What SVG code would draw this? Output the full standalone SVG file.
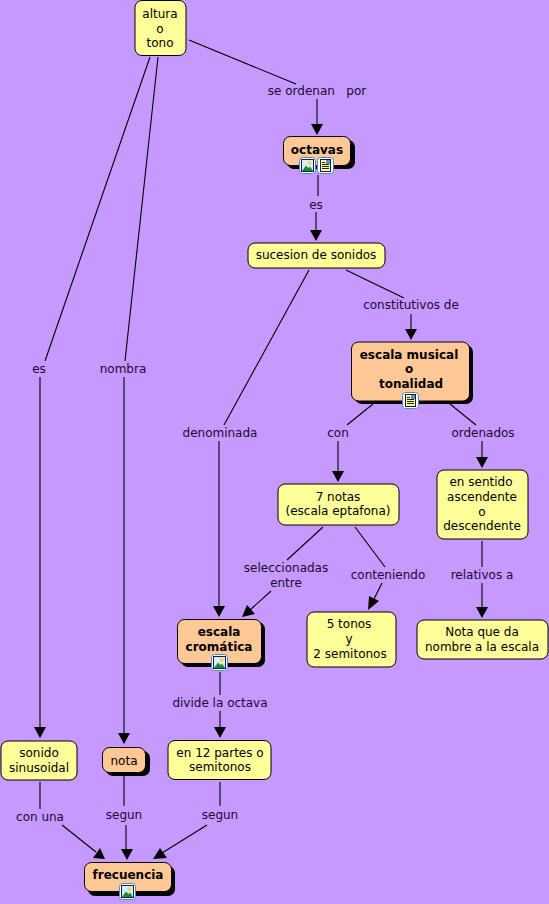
<svg xmlns="http://www.w3.org/2000/svg" width="549" height="904" viewBox="0 0 549 904">
<style>
text{font-family:"DejaVu Sans",Verdana,sans-serif;font-size:12px;text-anchor:middle;fill:#000}
.l{fill:#1a0a33}
.b{font-weight:bold}
.y{fill:#ffff99;stroke:#000;stroke-width:1}
.o{fill:#ffc896;stroke:#000;stroke-width:1}
.s{fill:#000}
.c{fill:none;stroke:#000;stroke-width:1.1}
.h{fill:#000}
.if{fill:#ffffff;stroke:#4f86d8;stroke-width:1}
</style>
<defs>
<g id="pic"><rect x="0.5" y="0.5" width="16" height="16" rx="3" class="if"/><rect x="2.500" y="2.500" width="12" height="12" fill="#d8ecff" stroke="#10243c" stroke-width="1"/><path d="M3 14L7 8.500L9.500 11L11 9.500L14 14Z" fill="#1f8a3a"/><circle cx="10.500" cy="6" r="2" fill="#f5d742"/></g>
<g id="doc"><rect x="0.5" y="0.5" width="16" height="16" rx="3" class="if"/><rect x="3.500" y="2.500" width="10" height="12" fill="#ffff99" stroke="#10243c" stroke-width="1"/><rect x="9" y="3" width="4" height="4" fill="#5f8fb8"/><path d="M5 5.500H8M5 7.500H12M5 9.500H12M5 11.500H12" stroke="#222" stroke-width="1" fill="none"/></g>
</defs>
<rect width="549" height="904" fill="#c599ff"/>
<g id="connectors">
<path class="c" d="M189 40L296 84"/><path class="c" d="M317 99V126"/><path class="h" d="M311 124H323L317 135Z"/>
<path class="c" d="M318 175V196"/><path class="c" d="M316 212V232"/><path class="h" d="M310 230H322L316 241Z"/>
<path class="c" d="M346 270L404 298"/><path class="c" d="M411 314V331"/><path class="h" d="M405 329H417L411 340Z"/>
<path class="c" d="M309 270L224 425"/><path class="c" d="M219 441V608"/><path class="h" d="M213 606H225L219 617Z"/>
<path class="c" d="M373 404L347 425"/><path class="c" d="M338 441V473"/><path class="h" d="M332 471H344L338 482Z"/>
<path class="c" d="M450 404L476 425"/><path class="c" d="M482 441V458"/><path class="h" d="M476 457H488L482 468Z"/>
<path class="c" d="M482 541V567"/><path class="c" d="M482 583V609"/><path class="h" d="M476 607H488L482 618Z"/>
<path class="c" d="M323 527L287 560"/><path class="c" d="M271 591L250 610"/><path class="h" d="M242 617L247 605L255 614Z"/>
<path class="c" d="M355 527L385 567"/><path class="c" d="M382 583L374 599"/><path class="h" d="M368 610L369 596L379 601Z"/>
<path class="c" d="M220 672V695"/><path class="c" d="M220 711V729"/><path class="h" d="M214 727H226L220 738Z"/>
<path class="c" d="M150 57L45 361"/><path class="c" d="M40 377V727"/><path class="h" d="M34 727H46L40 738Z"/>
<path class="c" d="M158 57L125 361"/><path class="c" d="M124 377V733"/><path class="h" d="M118 733H130L124 744Z"/>
<path class="c" d="M40 782V809"/><path class="c" d="M62 825L96 852"/><path class="h" d="M105 859L93 858L100 848Z"/>
<path class="c" d="M124 776V806"/><path class="c" d="M126 825V851"/><path class="h" d="M121 849H133L127 860Z"/>
<path class="c" d="M220 782V806"/><path class="c" d="M207 825L162 853"/><path class="h" d="M153 859L160 848L167 858Z"/>
</g>
<g id="n-altura"><rect class="y" x="135" y="0.500" width="51" height="55" rx="7"/><text x="160" y="18">altura</text><text x="160" y="33">o</text><text x="160" y="47">tono</text></g>
<g id="n-octavas"><rect class="s" x="287" y="140" width="68" height="29" rx="7"/><rect class="o" x="283.500" y="136.500" width="67" height="29" rx="7"/><text class="b" x="317" y="154">octavas</text><use href="#pic" x="299" y="157"/><use href="#doc" x="317" y="157"/></g>
<g id="n-sucesion"><rect class="y" x="248" y="243" width="137" height="25" rx="7"/><text x="316" y="259">sucesion de sonidos</text></g>
<g id="n-escala-musical"><rect class="s" x="355" y="345" width="118" height="59" rx="7"/><rect class="o" x="351.500" y="342" width="118" height="59" rx="7"/><text class="b" x="409" y="359">escala musical</text><text class="b" x="409" y="373">o</text><text class="b" x="411" y="388">tonalidad</text><use href="#doc" x="402" y="392"/></g>
<g id="n-7notas"><rect class="y" x="278" y="484" width="121" height="41" rx="7"/><text x="338" y="501">7 notas</text><text x="338" y="515">(escala eptafona)</text></g>
<g id="n-sentido"><rect class="y" x="437" y="470" width="91" height="69" rx="7"/><text x="481" y="486">en sentido</text><text x="482" y="501">ascendente</text><text x="482" y="516">o</text><text x="482" y="530">descendente</text></g>
<g id="n-5tonos"><rect class="y" x="307" y="612" width="89" height="55" rx="7"/><text x="349" y="628">5 tonos</text><text x="349" y="643">y</text><text x="350" y="658">2 semitonos</text></g>
<g id="n-nota-escala"><rect class="y" x="417" y="620" width="131" height="39" rx="7"/><text x="482" y="636">Nota que da</text><text x="482" y="651">nombre a la escala</text></g>
<g id="n-cromatica"><rect class="s" x="181" y="622" width="84" height="45" rx="7"/><rect class="o" x="177.500" y="619.500" width="84" height="44" rx="7"/><text class="b" x="219" y="636">escala</text><text class="b" x="219" y="651">cromática</text><use href="#pic" x="211" y="654"/></g>
<g id="n-sonido"><rect class="y" x="1" y="741" width="76" height="39" rx="7"/><text x="39" y="757">sonido</text><text x="39" y="772">sinusoidal</text></g>
<g id="n-nota"><rect class="s" x="106" y="751" width="44" height="25" rx="7"/><rect class="o" x="102.500" y="747.500" width="43" height="25" rx="7"/><text x="124" y="765">nota</text></g>
<g id="n-12partes"><rect class="y" x="168" y="740.500" width="103" height="39" rx="7"/><text x="220" y="757">en 12 partes o</text><text x="220" y="771">semitonos</text></g>
<g id="n-frecuencia"><rect class="s" x="88" y="866" width="87" height="30" rx="7"/><rect class="o" x="84.500" y="862.500" width="87" height="29" rx="7"/><text class="b" x="128" y="879">frecuencia</text><use href="#pic" x="119" y="883"/></g>
<g id="labels">
<text class="l" x="317" y="95" xml:space="preserve">se ordenan   por</text>
<text class="l" x="316" y="209">es</text>
<text class="l" x="411" y="309">constitutivos de</text>
<text class="l" x="220" y="437">denominada</text>
<text class="l" x="338" y="437">con</text>
<text class="l" x="483" y="437">ordenados</text>
<text class="l" x="39" y="373">es</text>
<text class="l" x="123" y="373">nombra</text>
<text class="l" x="286" y="572">seleccionadas</text>
<text class="l" x="286" y="587">entre</text>
<text class="l" x="388" y="579">conteniendo</text>
<text class="l" x="482" y="579">relativos a</text>
<text class="l" x="220" y="707">divide la octava</text>
<text class="l" x="40" y="821">con una</text>
<text class="l" x="124" y="819">segun</text>
<text class="l" x="220" y="819">segun</text>
</g>
</svg>
